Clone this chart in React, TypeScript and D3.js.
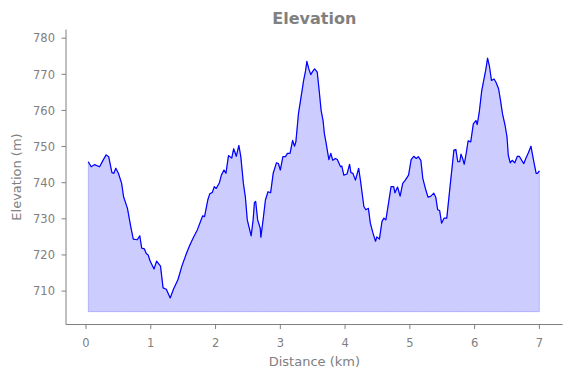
import React from "react";
import * as d3 from "d3";

const distanceKm = [
  0.035, 0.08, 0.13, 0.21, 0.26, 0.31, 0.35, 0.4, 0.43, 0.46, 0.5, 0.55, 0.58, 0.64, 0.69, 0.73, 0.79, 0.83, 0.86, 0.9,
  0.93, 0.96, 0.99, 1.05, 1.09, 1.15, 1.19, 1.24, 1.3, 1.35, 1.42, 1.48, 1.55, 1.6, 1.66, 1.72, 1.8, 1.83, 1.88, 1.91,
  1.95, 1.98, 2.01, 2.06, 2.09, 2.13, 2.16, 2.2, 2.25, 2.28, 2.32, 2.36, 2.39, 2.43, 2.46, 2.49, 2.55, 2.58, 2.6, 2.62,
  2.65, 2.69, 2.7, 2.74, 2.77, 2.81, 2.85, 2.89, 2.94, 2.97, 3.0, 3.04, 3.08, 3.11, 3.15, 3.19, 3.22, 3.24, 3.28, 3.32,
  3.36, 3.39, 3.41, 3.44, 3.47, 3.5, 3.53, 3.57, 3.6, 3.63, 3.66, 3.68, 3.7, 3.75, 3.78, 3.81, 3.85, 3.88, 3.93, 3.95,
  3.98, 4.03, 4.07, 4.09, 4.12, 4.16, 4.21, 4.24, 4.29, 4.32, 4.36, 4.39, 4.43, 4.47, 4.49, 4.53, 4.57, 4.6, 4.63, 4.67,
  4.71, 4.75, 4.77, 4.81, 4.85, 4.89, 4.93, 4.98, 5.02, 5.06, 5.1, 5.13, 5.17, 5.2, 5.24, 5.28, 5.32, 5.37, 5.4, 5.43,
  5.46, 5.49, 5.53, 5.57, 5.61, 5.65, 5.68, 5.71, 5.74, 5.77, 5.79, 5.82, 5.84, 5.87, 5.9, 5.94, 5.98, 6.02, 6.04, 6.07,
  6.11, 6.15, 6.17, 6.2, 6.23, 6.26, 6.3, 6.33, 6.37, 6.4, 6.43, 6.47, 6.5, 6.52, 6.55, 6.58, 6.62, 6.66, 6.69, 6.73,
  6.76, 6.79, 6.83, 6.87, 6.89, 6.92, 6.95, 6.97, 7.0,
];

const elevationM = [
  745.8, 744.4, 745.0, 744.4, 746.1, 747.7, 747.2, 742.8, 742.6, 744.0, 742.6, 739.8, 736.1, 732.9, 727.9, 724.4, 724.2, 725.3, 721.9, 721.7,
  720.4, 720.0, 718.3, 716.1, 718.3, 716.9, 710.9, 710.5, 708.1, 710.5, 713.2, 716.9, 720.4, 722.6, 724.9, 727.0, 730.8, 730.6, 735.2, 736.9,
  737.3, 738.9, 738.4, 740.0, 742.1, 743.5, 742.6, 747.5, 746.8, 749.4, 747.3, 750.3, 747.2, 739.8, 736.1, 729.7, 725.3, 729.7, 734.5, 734.8,
  729.7, 727.4, 724.9, 730.6, 735.2, 737.5, 737.2, 742.6, 745.5, 745.3, 743.5, 747.2, 747.2, 748.1, 748.1, 751.7, 750.1, 751.3, 759.1, 763.7,
  768.3, 771.0, 773.6, 771.5, 769.9, 770.8, 771.5, 770.6, 765.5, 760.0, 757.2, 753.6, 751.7, 746.4, 748.1, 746.2, 746.7, 746.4, 744.4, 744.6,
  742.1, 742.4, 745.1, 742.8, 742.6, 740.7, 744.0, 740.3, 733.4, 732.5, 732.9, 728.8, 726.1, 723.8, 725.0, 724.4, 729.3, 730.2, 729.7, 734.3,
  738.9, 738.9, 737.2, 738.8, 736.3, 739.8, 740.7, 742.1, 746.4, 747.3, 746.7, 747.2, 746.2, 741.2, 738.4, 736.0, 736.2, 737.1, 736.0, 732.5,
  732.3, 728.8, 730.2, 730.2, 737.1, 743.9, 749.0, 749.2, 745.8, 745.8, 747.9, 746.4, 745.1, 748.1, 751.6, 751.3, 756.3, 757.2, 756.1, 759.3,
  765.5, 769.2, 771.0, 774.5, 772.1, 768.3, 768.7, 767.8, 766.0, 762.8, 759.1, 755.9, 752.7, 747.6, 745.5, 746.2, 745.5, 747.3, 747.3, 746.1,
  745.3, 746.7, 748.3, 750.1, 748.1, 745.3, 742.6, 742.6, 743.3,
];

const baseElevation = 704.3;
const xTicks = [0, 1, 2, 3, 4, 5, 6, 7];
const yTicks = [710, 720, 730, 740, 750, 760, 770, 780];
const title = "Elevation";
const xLabel = "Distance (km)";
const yLabel = "Elevation (m)";

const W = 571;
const H = 378;
const left = 66;
const right = 562.7;
const top = 29.5;
const bottom = 324.5;
const gray = "#808080";
const font = "DejaVu Sans, sans-serif";
const tickFont = 11.5;

export default function App() {
  const x = d3.scaleLinear().domain([-0.309, 7.36]).range([left, right]);
  const y = d3.scaleLinear().domain([700.75, 782.4]).range([bottom, top]);
  const pts: [number, number][] = distanceKm.map((d, i) => [d, elevationM[i]]);
  const area = d3
    .area<[number, number]>()
    .x((d) => x(d[0]))
    .y0(y(baseElevation))
    .y1((d) => y(d[1]));
  const line = d3
    .line<[number, number]>()
    .x((d) => x(d[0]))
    .y((d) => y(d[1]));
  const areaPath = area(pts) as string;
  return (
    <svg
      width={W}
      height={H}
      style={{ position: "absolute", left: 0, top: 0, background: "#fff" }}
      fontFamily={font}
    >
      <path d={areaPath} fill="rgba(0,0,255,0.2)" stroke="rgba(0,0,255,0.2)" strokeWidth={1} />
      <path d={line(pts) as string} fill="none" stroke="#0000ff" strokeWidth={1.2} strokeLinejoin="round" />
      <line x1={left} x2={left} y1={top} y2={bottom} stroke={gray} strokeWidth={1} />
      <line x1={left} x2={right} y1={bottom} y2={bottom} stroke={gray} strokeWidth={1} />
      {xTicks.map((t) => (
        <g key={"x" + t}>
          <line x1={x(t)} x2={x(t)} y1={bottom} y2={bottom + 4.5} stroke={gray} strokeWidth={1} />
          <text x={x(t)} y={bottom + 22} textAnchor="middle" fontSize={tickFont} fill={gray}>
            {t}
          </text>
        </g>
      ))}
      {yTicks.map((t) => (
        <g key={"y" + t}>
          <line x1={left - 4.5} x2={left} y1={y(t)} y2={y(t)} stroke={gray} strokeWidth={1} />
          <text x={left - 11} y={y(t) + 4.2} textAnchor="end" fontSize={tickFont} fill={gray}>
            {t}
          </text>
        </g>
      ))}
      <text x={(left + right) / 2} y={24} textAnchor="middle" fontSize={16} fontWeight="bold" fill={gray}>
        {title}
      </text>
      <text x={(left + right) / 2} y={366} textAnchor="middle" fontSize={13} fill={gray}>
        {xLabel}
      </text>
      <text
        transform={`translate(21,${(top + bottom) / 2}) rotate(-90)`}
        textAnchor="middle"
        fontSize={13}
        fill={gray}
      >
        {yLabel}
      </text>
    </svg>
  );
}
